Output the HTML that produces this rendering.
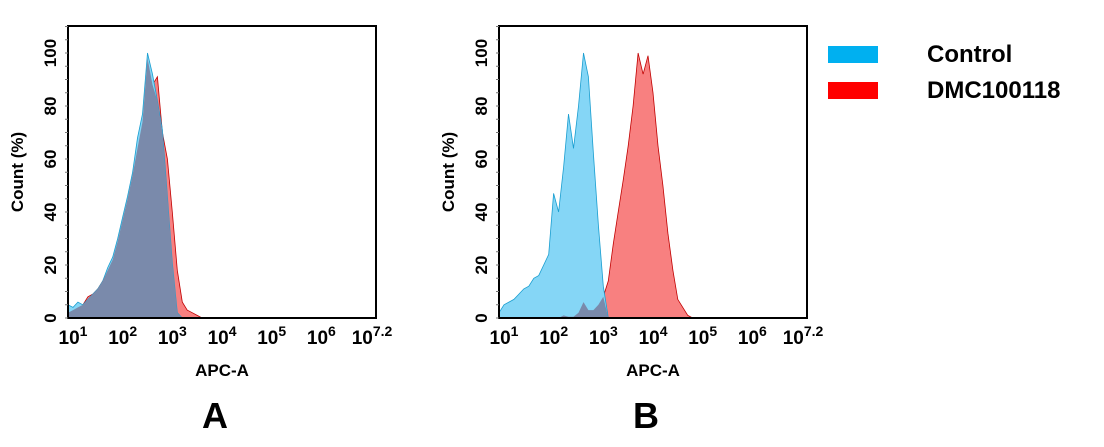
<!DOCTYPE html>
<html><head><meta charset="utf-8"><style>
html,body{margin:0;padding:0;background:#fff;}
svg{display:block;font-family:"Liberation Sans",Arial,sans-serif;}
</style></head><body>
<svg id="fig" width="1104" height="447" viewBox="0 0 1104 447">
<g id="legend">
 <rect x="828" y="46" width="50" height="17" fill="#00b0f0"/>
 <text x="927" y="62" font-size="24" font-weight="bold">Control</text>
 <rect x="828" y="82" width="50" height="17" fill="#ff0000"/>
 <text x="927" y="98" font-size="24" font-weight="bold">DMC100118</text>
</g>
</svg>
<script>
const logGrid=[1.0,1.1,1.2,1.3,1.4,1.5,1.6,1.7,1.8,1.9,2.0,2.1,2.2,2.3,2.4,2.5,2.6,2.7,2.8,2.9,3.0,3.1,3.2,3.3,3.4,3.5,3.6,3.7,3.8,3.9,4.0,4.1,4.2,4.3,4.4,4.5,4.6,4.7,4.8,4.9,5.0];
const aControl=[5,4,6,5,7,9,11,14,19,23,30,38,46,55,68,77,100,92,82,71,46,21,2,0,0,0,0,0,0,0,0,0,0,0,0,0,0,0,0,0,0];
const aSample=[2,3,4,5,8,9,11,14,18,22,29,37,45,54,64,74,98,88,91,70,60,40,18,6,3,2,1,0,0,0,0,0,0,0,0,0,0,0,0,0,0];
const bControl=[2,5,6,7,9,11,12,15,16,20,24,47,40,57,77,64,80,100,91,62,35,12,0,0,0,0,0,0,0,0,0,0,0,0,0,0,0,0,0,0,0];
const bSample=[0,0,0,0,0,0,0,0,0,0,0,0,0,1,0.5,0.5,2,6,3,3,5,8,14,28,40,52,65,80,100,92,99,85,65,50,32,18,7,4,1,0,0];
const yTicks=[0,20,40,60,80,100];
const xTickExps=["1","2","3","4","5","6","7.2"];
const xTickVals=[1,2,3,4,5,6,7.2];
const panelLabels=["A","B"];

const NS="http://www.w3.org/2000/svg";
const svg=document.getElementById('fig');
function mk(tag,attrs,parent){const e=document.createElementNS(NS,tag);for(const k in attrs)e.setAttribute(k,attrs[k]);parent.appendChild(e);return e;}

function panel(left,ctrl,samp,label,idx){
  const right=left+308, top=26, bottom=318;
  const g=mk('g',{},svg);
  
  
  const xs=v=>left+(v-1)/6.2*(right-left);
  const ys=v=>bottom-v*2.65;
  function area(vals,fill,stroke,name){
    let d='M'+xs(logGrid[0])+','+ys(0);
    vals.forEach((v,i)=>{d+=' L'+xs(logGrid[i]).toFixed(1)+','+ys(v).toFixed(1);});
    d+=' L'+xs(logGrid[logGrid.length-1])+','+ys(0)+' Z';
    const p=mk('path',{d:d,fill:fill,stroke:stroke,'stroke-width':0.8},g);
    
    
  }
  area(samp,'#f88080','#c00000','histogram-dmc100118');
  area(ctrl,'#85d6f6','#1a9ed0','histogram-control');
  const ov=ctrl.map((v,i)=>Math.min(v,samp[i]));
  area(ov,'#7a8aab','none','histogram-overlap');
  const fr=mk('rect',{x:left,y:top,width:right-left,height:bottom-top,fill:'none',stroke:'#000','stroke-width':2},g);
  
  
  for(let v=0;v<=110;v+=5){mk('line',{x1:left-3,x2:left,y1:ys(v),y2:ys(v),stroke:'#777','stroke-width':1},g);}
  yTicks.forEach(v=>{
    const t=mk('text',{x:0,y:0,'font-size':17,'font-weight':'bold','text-anchor':'middle',transform:`translate(${left-12},${ys(v)}) rotate(-90)`},g);
    t.textContent=v;
    
    
  });
  xTickVals.forEach((v,i)=>{
    const x=xs(v);
    const t=mk('text',{x:(i==6?x-4:x+5),y:bottom+26,'font-size':19,'font-weight':'bold','text-anchor':'middle'},g);
    
    
    t.appendChild(document.createTextNode('10'));
    const s=mk('tspan',{'font-size':14,dy:-8},t);s.textContent=xTickExps[i];
  });
  const yt=mk('text',{x:0,y:0,'font-size':17,'font-weight':'bold','text-anchor':'middle',transform:`translate(${left-45},172) rotate(-90)`},g);
  yt.textContent='Count  (%)';
  
  
  const xt=mk('text',{x:left+154,y:376,'font-size':17,'font-weight':'bold','text-anchor':'middle'},g);
  xt.textContent='APC-A';
  
  
  const pl=mk('text',{x:left+147,y:428,'font-size':36,'font-weight':'bold','text-anchor':'middle'},g);
  pl.textContent=label;
  
  
}
panel(68,aControl,aSample,panelLabels[0],0);
panel(499,bControl,bSample,panelLabels[1],1);
</script>
</body></html>
